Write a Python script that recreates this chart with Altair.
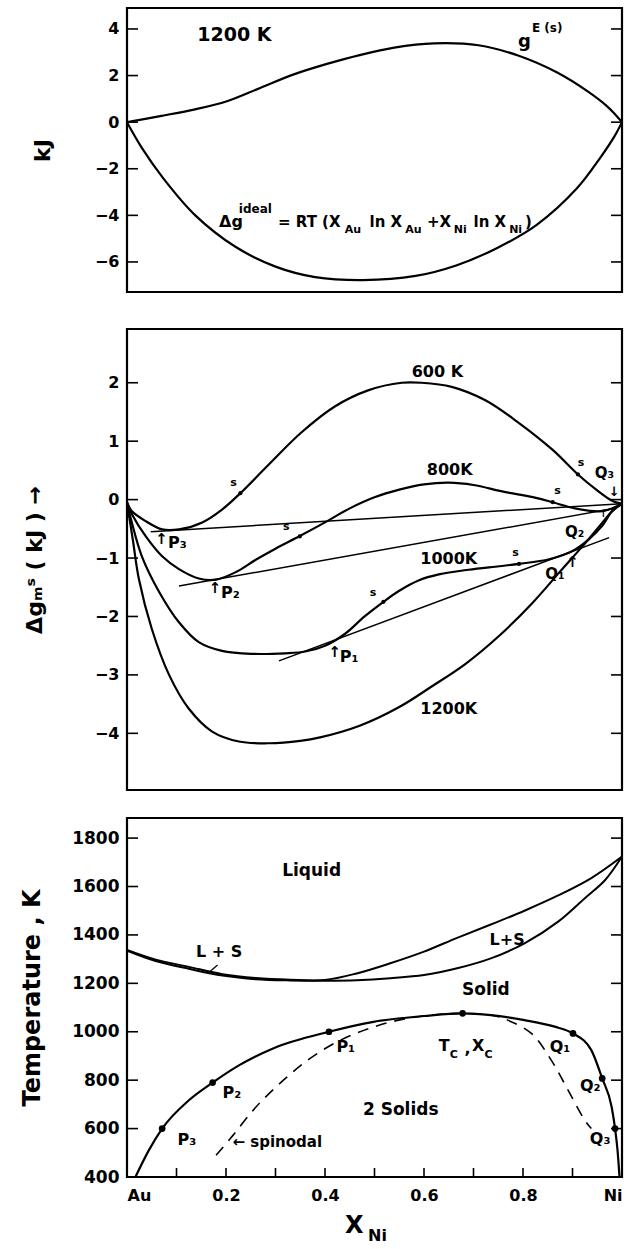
import altair as alt
import pandas as pd

FONT = "DejaVu Sans"
W = 495

# ---------------- Panel 1 : 1200 K (kJ) ----------------
ge_x = [0, 0.067, 0.135, 0.202, 0.269, 0.337, 0.404, 0.47, 0.54, 0.62, 0.71, 0.79, 0.87, 0.93, 0.97, 0.985, 1.0]
ge_y = [0, 0.26, 0.54, 0.9, 1.47, 2.05, 2.5, 2.88, 3.2, 3.38, 3.3, 2.86, 2.12, 1.33, 0.68, 0.36, 0]
id_x = [0, 0.03, 0.073, 0.138, 0.219, 0.3, 0.38, 0.477, 0.583, 0.665, 0.746, 0.827, 0.909, 0.957, 0.985, 1.0]
id_y = [0, -1.1, -2.4, -4.0, -5.35, -6.2, -6.65, -6.78, -6.6, -6.15, -5.42, -4.42, -2.84, -1.5, -0.6, 0]
p1_ticks = [-6, -4, -2, 0, 2, 4]

# ---------------- Panel 2 : Delta g (kJ) ----------------
x600 = [0, 0.01, 0.038, 0.071, 0.105, 0.152, 0.192, 0.229, 0.283, 0.351, 0.419, 0.487, 0.555, 0.595,
        0.656, 0.724, 0.792, 0.86, 0.911, 0.948, 0.982, 1.0]
g600 = [-0.05, -0.2, -0.37, -0.51, -0.51, -0.39, -0.17, 0.11, 0.57, 1.14, 1.59, 1.87, 2.0, 2.0,
        1.93, 1.70, 1.31, 0.85, 0.43, 0.17, -0.03, -0.07]
x800 = [0, 0.01, 0.038, 0.071, 0.105, 0.145, 0.18, 0.22, 0.26, 0.30, 0.35, 0.40, 0.45, 0.50, 0.55,
        0.60, 0.65, 0.70, 0.758, 0.826, 0.86, 0.905, 0.955, 0.98, 1.0]
g800 = [-0.05, -0.25, -0.63, -0.97, -1.19, -1.35, -1.37, -1.24, -1.03, -0.84, -0.62, -0.39, -0.15, 0.04, 0.17,
        0.26, 0.29, 0.25, 0.14, 0.03, -0.045, -0.15, -0.2, -0.15, -0.07]
x1000 = [0, 0.01, 0.03, 0.065, 0.105, 0.145, 0.192, 0.253, 0.32, 0.36, 0.40, 0.44, 0.48, 0.518, 0.55,
         0.59, 0.63, 0.69, 0.752, 0.792, 0.853, 0.9, 0.933, 0.96, 0.98, 1.0]
g1000 = [-0.05, -0.4, -0.97, -1.58, -2.1, -2.44, -2.59, -2.64, -2.63, -2.6, -2.5, -2.3, -2.0, -1.75, -1.56,
         -1.38, -1.28, -1.2, -1.14, -1.1, -1.02, -0.88, -0.68, -0.45, -0.2, -0.07]
x1200 = [0, 0.012, 0.024, 0.05, 0.085, 0.125, 0.172, 0.226, 0.287, 0.35, 0.39, 0.47, 0.55, 0.617,
         0.684, 0.752, 0.82, 0.873, 0.92, 0.954, 0.98, 1.0]
g1200 = [-0.05, -0.7, -1.36, -2.21, -3.0, -3.58, -3.97, -4.14, -4.17, -4.13, -4.07, -3.87, -3.55, -3.19,
         -2.81, -2.33, -1.76, -1.25, -0.8, -0.46, -0.2, -0.07]
tan_T = ["600", "600", "800", "800", "1000", "1000"]
tan_x = [0.048, 1.0, 0.105, 0.985, 0.307, 0.974]
tan_y = [-0.55, -0.07, -1.48, -0.15, -2.76, -0.65]
s_x = [0.229, 0.911, 0.349, 0.86, 0.518, 0.792]
s_y = [0.11, 0.43, -0.63, -0.045, -1.75, -1.1]
p2_ticks = [-4, -3, -2, -1, 0, 1, 2]

# ---------------- Panel 3 : phase diagram (K) ----------------
liq_x = [0, 0.058, 0.125, 0.193, 0.26, 0.33, 0.4, 0.464, 0.532, 0.6, 0.667, 0.735, 0.803, 0.871, 0.938, 1.0]
liq_T = [1338, 1298, 1268, 1238, 1222, 1215, 1214, 1241, 1283, 1331, 1388, 1443, 1500, 1563, 1635, 1724]
sol_x = [0, 0.058, 0.125, 0.193, 0.26, 0.33, 0.4, 0.464, 0.532, 0.6, 0.667, 0.735, 0.803, 0.871, 0.925, 0.966, 1.0]
sol_T = [1335, 1292, 1260, 1232, 1217, 1212, 1211, 1213, 1221, 1234, 1262, 1303, 1365, 1455, 1552, 1627, 1724]
solv_x = [0.017, 0.044, 0.071, 0.125, 0.173, 0.227, 0.295, 0.408, 0.498, 0.6, 0.678, 0.735, 0.803,
          0.864, 0.901, 0.938, 0.96, 0.979, 0.986, 0.991, 0.995]
solv_T = [400, 510, 600, 717, 790, 862, 931, 1000, 1041, 1065, 1076, 1069, 1048,
          1021, 993, 924, 807, 690, 600, 510, 400]
spin_x = [0.18, 0.214, 0.261, 0.316, 0.37, 0.431, 0.498, 0.566, 0.634, 0.678, 0.735, 0.769, 0.817,
          0.857, 0.891, 0.925, 0.938]
spin_T = [490, 572, 690, 800, 890, 965, 1020, 1055, 1072, 1076, 1069, 1048, 993, 883, 759, 634, 600]
pt_x = [0.071, 0.173, 0.408, 0.678, 0.901, 0.96, 0.986]
pt_T = [600, 790, 1000, 1076, 993, 807, 600]
p3_ticks = [400, 600, 800, 1000, 1200, 1400, 1600, 1800]
x_ticks = [0.1, 0.2, 0.3, 0.4, 0.5, 0.6, 0.7, 0.8, 0.9]
x_labels = [0, 0.2, 0.4, 0.6, 0.8, 1.0]

SMOOTH = "catmull-rom"


def xenc(axis=None):
    return alt.X("x:Q", scale=alt.Scale(domain=[0, 1], nice=False, zero=False), axis=axis)


def yenc(dom, axis):
    return alt.Y("y:Q", scale=alt.Scale(domain=dom, nice=False, zero=False), axis=axis)


def yaxis(ticks, title, fs, tx, tfs):
    return alt.Axis(values=ticks, title=title, ticks=False, domain=False, grid=False, format="d",
                    labelFont=FONT, labelFontSize=fs, labelFontWeight="bold", labelColor="black",
                    labelPadding=8,
                    titleFont=FONT, titleFontSize=tfs, titleFontWeight="bold", titleColor="black",
                    titleX=tx, titleBaseline="middle", titleAngle=270)


def lines(df, X, Y, width=2.2, dash=None, interp=SMOOTH, detail=None):
    kw = dict(color="black", strokeWidth=width, interpolate=interp, clip=True)
    if dash:
        kw["strokeDash"] = dash
    enc = dict(x=X, y=Y)
    if detail:
        enc["detail"] = detail
    return alt.Chart(df).mark_line(**kw).encode(**enc)


def texts(rows, X, Y, align="center", weight="bold"):
    df = pd.DataFrame(rows, columns=["t", "x", "y", "fs"])
    return alt.Chart(df).mark_text(font=FONT, align=align, baseline="middle", color="black",
                                   fontWeight=weight).encode(
        x=X, y=Y, text="t:N", size=alt.Size("fs:Q", scale=None))


def inner_yticks(ticks, X, Y, L=11):
    df = pd.DataFrame({"y": ticks})
    left = alt.Chart(df).mark_rule(color="black", strokeWidth=1.6).encode(
        x=alt.value(0), x2=alt.value(L), y=Y)
    right = alt.Chart(df).mark_rule(color="black", strokeWidth=1.6).encode(
        x=alt.value(W - L), x2=alt.value(W), y=Y)
    return left + right


# ---- panel 1
H1 = 284
dom1 = [-7.29, 4.9]
Y1 = yenc(dom1, yaxis(p1_ticks, "kJ", 16, -85, 22))
X1 = xenc()
d_ge = pd.DataFrame({"x": ge_x, "y": ge_y})
d_id = pd.DataFrame({"x": id_x, "y": id_y})
p1_center = [("1200 K", 0.217, 3.75, 19)]
p1_left = [
    ("g", 0.79, 3.45, 18), ("E (s)", 0.818, 4.05, 12),
    ("Δg", 0.186, -4.3, 16), ("ideal", 0.226, -3.72, 12),
    ("= RT (X", 0.305, -4.3, 15), ("Au", 0.44, -4.65, 11),
    ("ln X", 0.49, -4.3, 15), ("Au", 0.562, -4.65, 11),
    ("+X", 0.606, -4.3, 15), ("Ni", 0.66, -4.65, 11),
    ("ln X", 0.7, -4.3, 15), ("Ni", 0.772, -4.65, 11),
    (")", 0.804, -4.3, 15),
]
p1 = alt.layer(
    inner_yticks(p1_ticks, X1, Y1),
    lines(d_ge, X1, Y1), lines(d_id, X1, Y1),
    texts(p1_center, X1, Y1), texts(p1_left, X1, Y1, "left"),
).properties(width=W, height=H1)

# ---- panel 2
H2 = 461
dom2 = [-4.97, 2.92]
Y2 = yenc(dom2, yaxis(p2_ticks, "Δgₘˢ ( kJ ) →", 16, -93, 22))
X2 = xenc()
curves = pd.concat([
    pd.DataFrame({"x": x600, "y": g600, "T": "600"}),
    pd.DataFrame({"x": x800, "y": g800, "T": "800"}),
    pd.DataFrame({"x": x1000, "y": g1000, "T": "1000"}),
    pd.DataFrame({"x": x1200, "y": g1200, "T": "1200"}),
])
d_tan = pd.DataFrame({"x": tan_x, "y": tan_y, "T": tan_T})
d_s = pd.DataFrame({"x": s_x, "y": s_y})
p2_center = [
    ("600 K", 0.627, 2.18, 16), ("800K", 0.652, 0.51, 16),
    ("1000K", 0.65, -1.02, 16), ("1200K", 0.65, -3.58, 16),
    ("s", 0.215, 0.29, 11), ("s", 0.917, 0.63, 11), ("s", 0.322, -0.47, 11),
    ("s", 0.87, 0.14, 11), ("s", 0.497, -1.59, 11), ("s", 0.785, -0.91, 11),
    ("↑", 0.07, -0.68, 15), ("↑", 0.178, -1.52, 15), ("↑", 0.42, -2.6, 15),
    ("↑", 0.9, -1.07, 15), ("↑", 0.962, -0.24, 10), ("↓", 0.984, 0.13, 13),
]
p2_left = [
    ("P₃", 0.083, -0.74, 16), ("P₂", 0.19, -1.6, 16), ("P₁", 0.43, -2.7, 16),
    ("Q₁", 0.845, -1.27, 15), ("Q₂", 0.885, -0.55, 15), ("Q₃", 0.945, 0.45, 15),
]
p2 = alt.layer(
    inner_yticks(p2_ticks, X2, Y2),
    lines(curves, X2, Y2, detail="T:N"),
    lines(d_tan, X2, Y2, width=1.5, interp="linear", detail="T:N"),
    alt.Chart(d_s).mark_point(filled=True, color="black", size=18, opacity=1).encode(x=X2, y=Y2),
    texts(p2_center, X2, Y2), texts(p2_left, X2, Y2, "left"),
).properties(width=W, height=H2)

# ---- panel 3
H3 = 359
dom3 = [400, 1883]
Y3 = yenc(dom3, yaxis(p3_ticks, "Temperature , K", 17, -95, 24))
X3 = xenc(alt.Axis(values=x_labels, title=None, ticks=False, domain=False, grid=False,
                   labelFont=FONT, labelFontSize=16, labelFontWeight="bold", labelColor="black",
                   labelPadding=10,
                   labelExpr="datum.value == 0 ? 'Au' : datum.value == 1 ? 'Ni' : format(datum.value, '.1f')"))
d_liq = pd.DataFrame({"x": liq_x, "y": liq_T})
d_sol = pd.DataFrame({"x": sol_x, "y": sol_T})
d_solv = pd.DataFrame({"x": solv_x, "y": solv_T})
d_spin = pd.DataFrame({"x": spin_x, "y": spin_T})
d_pt = pd.DataFrame({"x": pt_x, "y": pt_T})
xt = pd.DataFrame({"x": x_ticks})
p3_center = [
    ("Liquid", 0.373, 1663, 17), ("L + S", 0.186, 1331, 16), ("L+S", 0.768, 1379, 16),
    ("Solid", 0.725, 1172, 17), ("2  Solids", 0.553, 676, 17),
]
p3_left = [
    ("← spinodal", 0.213, 545, 15),
    ("T", 0.63, 940, 16), ("C", 0.652, 905, 11), (",", 0.682, 930, 16),
    ("X", 0.697, 940, 16), ("C", 0.722, 905, 11),
    ("P₃", 0.102, 552, 16), ("P₂", 0.193, 749, 16), ("P₁", 0.423, 938, 16),
    ("Q₁", 0.854, 938, 16), ("Q₂", 0.915, 776, 16), ("Q₃", 0.935, 559, 16),
]
leader = pd.DataFrame({"x": [0.183], "y": [1276], "x2": [0.167], "y2": [1248]})
p3 = alt.layer(
    inner_yticks(p3_ticks[1:], X3, Y3),
    alt.Chart(xt).mark_rule(color="black", strokeWidth=1.6).encode(
        x=X3, y=alt.value(H3), y2=alt.value(H3 - 9)),
    lines(d_liq, X3, Y3, width=2.0), lines(d_sol, X3, Y3, width=2.0),
    lines(d_solv, X3, Y3, width=2.2, interp="monotone"),
    lines(d_spin, X3, Y3, width=1.6, dash=[11, 8]),
    alt.Chart(d_pt).mark_point(filled=True, color="black", size=45, opacity=1).encode(x=X3, y=Y3),
    alt.Chart(leader).mark_rule(color="black", strokeWidth=1.2).encode(
        x=X3, y=Y3, x2="x2:Q", y2="y2:Q"),
    texts(p3_center, X3, Y3), texts(p3_left, X3, Y3, "left"),
    alt.Chart(pd.DataFrame({"t": ["X"], "x": [0.459]})).mark_text(
        font=FONT, fontSize=24, fontWeight="bold", color="black", baseline="middle").encode(
        x=X3, y=alt.value(H3 + 49), text="t:N"),
    alt.Chart(pd.DataFrame({"t": ["Ni"], "x": [0.487]})).mark_text(
        font=FONT, fontSize=16, fontWeight="bold", color="black", align="left", baseline="middle").encode(
        x=X3, y=alt.value(H3 + 59), text="t:N"),
).properties(width=W, height=H3)

top = alt.vconcat(p1, p2, spacing=33)
chart = alt.vconcat(top, p3, spacing=24).properties(
    padding={"left": 18, "top": 6, "right": 2, "bottom": 0},
    background="white",
).configure_view(stroke="black", strokeWidth=2.2)

chart.save("out.html", embed_options={"renderer": "svg", "actions": False})
